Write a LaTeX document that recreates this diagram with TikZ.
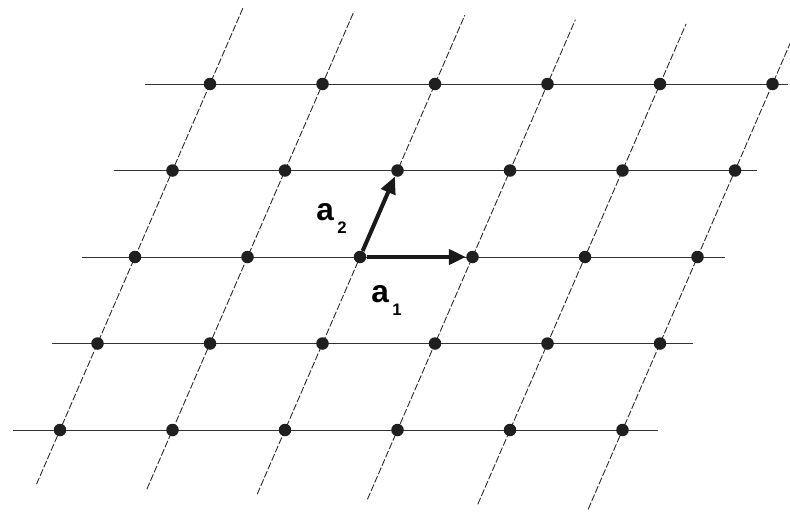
\documentclass[tikz,border=0pt]{standalone}
\usepackage{fontspec}
\newfontfamily\labelfont{Liberation Sans}
\usetikzlibrary{arrows.meta, positioning, calc}

\begin{document}
\begin{tikzpicture}[
    site/.style={circle, fill=black!88, minimum size=0.25cm, inner sep=0pt},
    rowline/.style={black!80, line width=0.5pt},
    colline/.style={black!85, line width=0.5pt, dash pattern=on 4pt off 1.2pt},
    vec/.style={-{Triangle[length=0.34cm, width=0.3cm]}, line width=2.3pt, black!90},
    veclabel/.style={font=\labelfont\bfseries\fontsize{18}{18}\selectfont,
                     inner sep=0pt, anchor=base west}
  ]
  \clip (0,0) rectangle (15.8,10.24);
  \useasboundingbox (0,0) rectangle (15.8,10.24);

  % lattice sites
  \foreach \i in {0,...,5}
    \foreach \j in {0,...,4}
      \coordinate (p-\i-\j) at ({1.2+2.25*\i+0.75*\j}, {1.64+1.73*\j});

  % horizontal rows
  \foreach \j/\l/\r in {0/0.94/0.70, 1/0.92/0.66, 2/1.06/0.54, 3/1.18/0.44, 4/1.30/0.30}
    \draw[rowline, shorten <=-\l cm, shorten >=-\r cm] (p-0-\j) -- (p-5-\j);

  % slanted columns
  \foreach \i/\b/\t in {0/1.18/1.68, 1/1.29/1.59, 2/1.40/1.50, 3/1.51/1.40, 4/1.62/1.31, 5/1.73/1.30}
    \draw[colline, shorten <=-\b cm, shorten >=-\t cm] (p-\i-0) -- (p-\i-4);

  \foreach \i in {0,...,5}
    \foreach \j in {0,...,4}
      \node[site] (d-\i-\j) at (p-\i-\j) {};

  % basis vectors
  \draw[vec] (d-2-2) -- (d-3-2);
  \draw[vec] (d-2-2) -- (d-2-3);

  \node[veclabel] (a1) at (7.42,4.2) {a\hspace{2pt}\raisebox{-7.5pt}{\fontsize{9.5}{10}\selectfont 1}};
  \node[veclabel] (a2) at (6.32,5.84) {a\hspace{2pt}\raisebox{-7.5pt}{\fontsize{9.5}{10}\selectfont 2}};
\end{tikzpicture}
\end{document}
